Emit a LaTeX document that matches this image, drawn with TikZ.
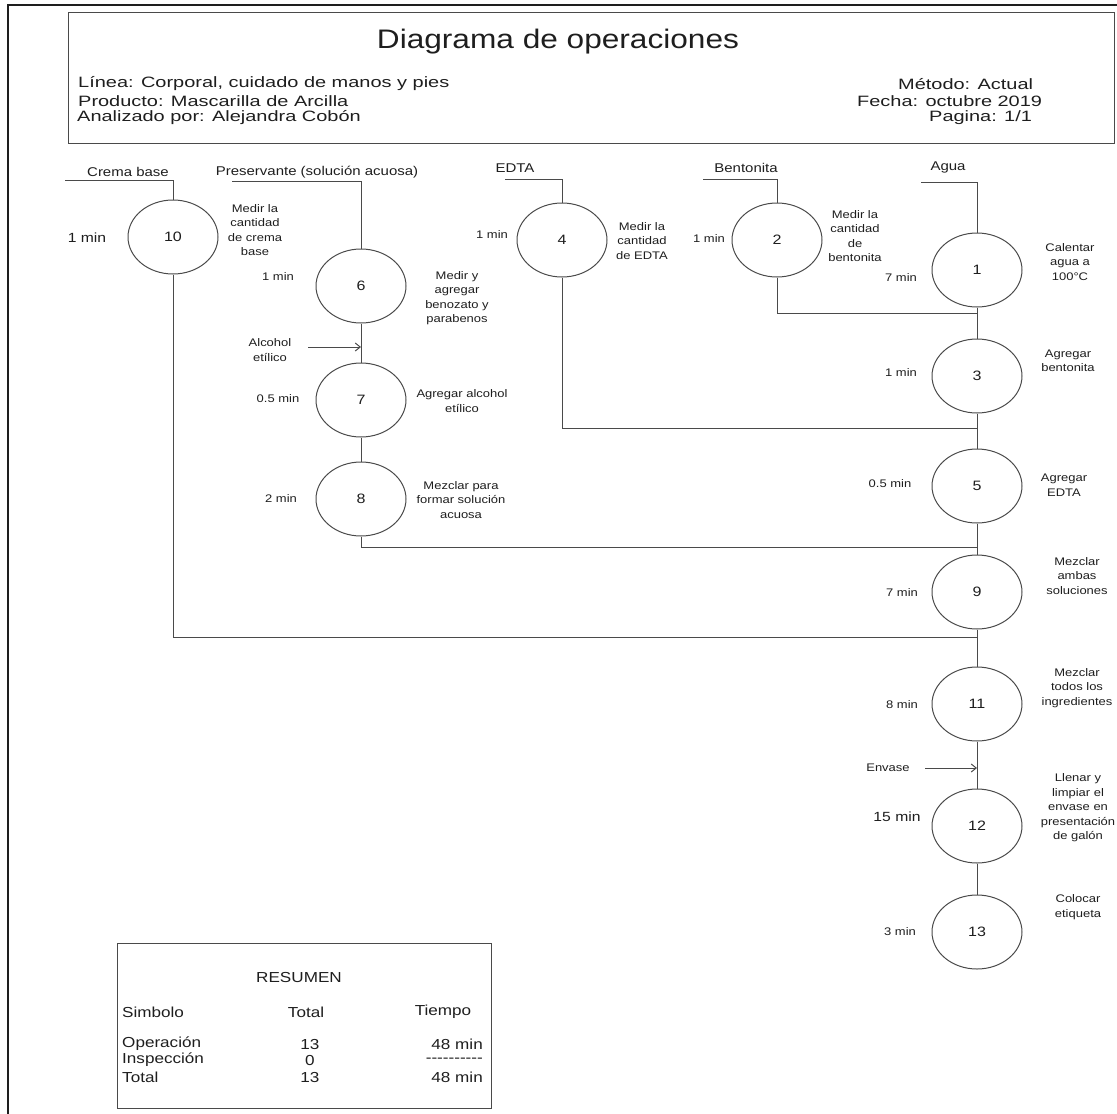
\documentclass[tikz,border=0pt]{standalone}
\usepackage{fontspec}
\setmainfont{Liberation Sans}[FakeStretch=1.18]
\newfontfamily\headfont{Liberation Sans}[FakeStretch=1.33]
\usetikzlibrary{shapes.geometric,arrows.meta}
\definecolor{ink}{HTML}{1E1E1E}
\definecolor{linec}{HTML}{4A4A4A}
\begin{document}
\begin{tikzpicture}[x=1pt,y=-1pt,
  every node/.style={text=ink, inner sep=0pt},
  op/.style={ellipse, draw=linec, line width=1pt, minimum width=90pt, minimum height=74pt,
    font=\fontsize{13.6}{16}\selectfont},
  conn/.style={draw=linec, line width=1pt},
  arr/.style={conn, -{Straight Barb[length=5pt,width=8pt]}},
  desc/.style={align=center, font=\fontsize{11}{14.5}\selectfont},
  tsmall/.style={font=\fontsize{11}{13}\selectfont},
  tbig/.style={font=\fontsize{13.3}{15}\selectfont},
  src/.style={font=\fontsize{12.7}{15}\selectfont},
  head/.style={font=\headfont\fontsize{15}{17}\selectfont},
  summ/.style={font=\fontsize{14.5}{17}\selectfont}]
\useasboundingbox (0,0) rectangle (1117,1114);

% page frame (top and left edges)
\draw[line width=2pt, ink] (8,1114) -- (8,5) -- (1117,5);

% header block
\draw[linec, line width=0.9pt] (68,12) rectangle (1114,143);
\node[font=\fontsize{26.8}{32}\selectfont] (title) at (558,42) {Diagrama de operaciones};
\node[head, anchor=west] (linea) at (78,84) {Línea: Corporal, cuidado de manos y pies};
\node[head, anchor=west] (prod) at (78,101) {Producto: Mascarilla de Arcilla};
\node[head, anchor=west] (anal) at (77,118) {Analizado por: Alejandra Cobón};
\node[head, anchor=west] (metodo) at (898,84) {Método: Actual};
\node[head, anchor=west] (fecha) at (857,101) {Fecha: octubre 2019};
\node[head, anchor=west] (pagina) at (929,118) {Pagina: 1/1};

% operations
\node[op] (c10) at (173,237) {10};
\node[op] (c6)  at (361,286) {6};
\node[op] (c7)  at (361,400) {7};
\node[op] (c8)  at (361,499) {8};
\node[op] (c4)  at (562,240) {4};
\node[op] (c2)  at (777,240) {2};
\node[op] (c1)  at (977,270) {1};
\node[op] (c3)  at (977,376) {3};
\node[op] (c5)  at (977,486) {5};
\node[op] (c9)  at (977,592) {9};
\node[op] (c11) at (977,704) {11};
\node[op] (c12) at (977,826) {12};
\node[op] (c13) at (977,932) {13};

% raw materials
\node[src] (lcrema) at (128,172) {Crema base};
\node[src] (lpres)  at (317,172) {Preservante (solución acuosa)};
\node[src] (ledta)  at (515,168) {EDTA};
\node[src] (lbent)  at (746,168) {Bentonita};
\node[src] (lagua)  at (948,167) {Agua};
\coordinate (s10) at (65,180);
\coordinate (s6)  at (232,181);
\coordinate (s4)  at (505,179);
\coordinate (s2)  at (703,179);
\coordinate (s1)  at (921,182);
\draw[conn] (s10) -| (c10.north);
\draw[conn] (s6)  -| (c6.north);
\draw[conn] (s4)  -| (c4.north);
\draw[conn] (s2)  -| (c2.north);
\draw[conn] (s1)  -| (c1.north);

% junctions on the main line
\coordinate (j2)  at (977,313);
\coordinate (j4)  at (977,428);
\coordinate (j8)  at (977,547);
\coordinate (j10) at (977,637);

% preservative branch
\draw[conn] (c6.south) -- (c7.north);
\draw[conn] (c7.south) -- (c8.north);
\draw[conn] (c8.south) |- (j8);
\coordinate (alc) at (308,347);
\draw[arr] (alc) -- (alc -| c7.north);
\node[desc] (lalc) at (270,350) {Alcohol\\etílico};

% side branches into the main line
\draw[conn] (c10.south) |- (j10);
\draw[conn] (c4.south) |- (j4);
\draw[conn] (c2.south) |- (j2);

% main line
\draw[conn] (c1.south) -- (c3.north);
\draw[conn] (c3.south) -- (c5.north);
\draw[conn] (c5.south) -- (c9.north);
\draw[conn] (c9.south) -- (c11.north);
\draw[conn] (c11.south) -- (c12.north);
\draw[conn] (c12.south) -- (c13.north);
\coordinate (env) at (925,768);
\draw[arr] (env) -- (env -| c11.south);
\node[tsmall] (lenv) at (888,768) {Envase};

% times
\node[tbig]   (t10) at (87,238)  {1 min};
\node[tsmall] (t6)  at (278,277) {1 min};
\node[tsmall] (t7)  at (278,399) {0.5 min};
\node[tsmall] (t8)  at (281,499) {2 min};
\node[tsmall] (t4)  at (492,235) {1 min};
\node[tsmall] (t2)  at (709,239) {1 min};
\node[tsmall] (t1)  at (901,278) {7 min};
\node[tsmall] (t3)  at (901,373) {1 min};
\node[tsmall] (t5)  at (890,484) {0.5 min};
\node[tsmall] (t9)  at (902,593) {7 min};
\node[tsmall] (t11) at (902,705) {8 min};
\node[tbig]   (t12) at (897,817) {15 min};
\node[tsmall] (t13) at (900,932) {3 min};

% descriptions
\node[desc] (d10) at (255,230) {Medir la\\cantidad\\de crema\\base};
\node[desc] (d6)  at (457,298) {Medir y\\agregar\\benozato y\\parabenos};
\node[desc] (d7)  at (462,401) {Agregar alcohol\\etílico};
\node[desc] (d8)  at (461,500) {Mezclar para\\formar solución\\acuosa};
\node[desc] (d4)  at (642,241) {Medir la\\cantidad\\de EDTA};
\node[desc] (d2)  at (855,236) {Medir la\\cantidad\\de\\bentonita};
\node[desc] (d1)  at (1070,262) {Calentar\\agua a\\100°C};
\node[desc] (d3)  at (1068,361) {Agregar\\bentonita};
\node[desc] (d5)  at (1064,485) {Agregar\\EDTA};
\node[desc] (d9)  at (1077,576) {Mezclar\\ambas\\soluciones};
\node[desc] (d11) at (1077,688) {Mezclar\\todos los\\ingredientes};
\node[desc] (d12) at (1078,808) {Llenar y\\limpiar el\\envase en\\presentación\\de galón};
\node[desc] (d13) at (1078,907) {Colocar\\etiqueta};

% summary table
\draw[linec, line width=0.9pt] (117,943) rectangle (491,1108);
\node[summ] (res) at (299,977) {RESUMEN};
\node[summ, anchor=west] (hsim) at (122,1012) {Simbolo};
\node[summ] (htot) at (306,1012) {Total};
\node[summ] (htie) at (443,1012) {Tiempo};
\node[summ, anchor=west] (rop) at (122,1044) {Operación};
\node[summ] (nop) at (310,1044) {13};
\node[summ, anchor=east] (top) at (483,1044) {48 min};
\node[summ, anchor=west] (rin) at (122,1060) {Inspección};
\node[summ] (nin) at (310,1060) {0};
\node[summ, anchor=east] (tin) at (483,1060) {-{}-{}-{}-{}-{}-{}-{}-{}-{}-};
\node[summ, anchor=west] (rto) at (122,1077) {Total};
\node[summ] (nto) at (310,1077) {13};
\node[summ, anchor=east] (tto) at (483,1077) {48 min};
\end{tikzpicture}
\end{document}
